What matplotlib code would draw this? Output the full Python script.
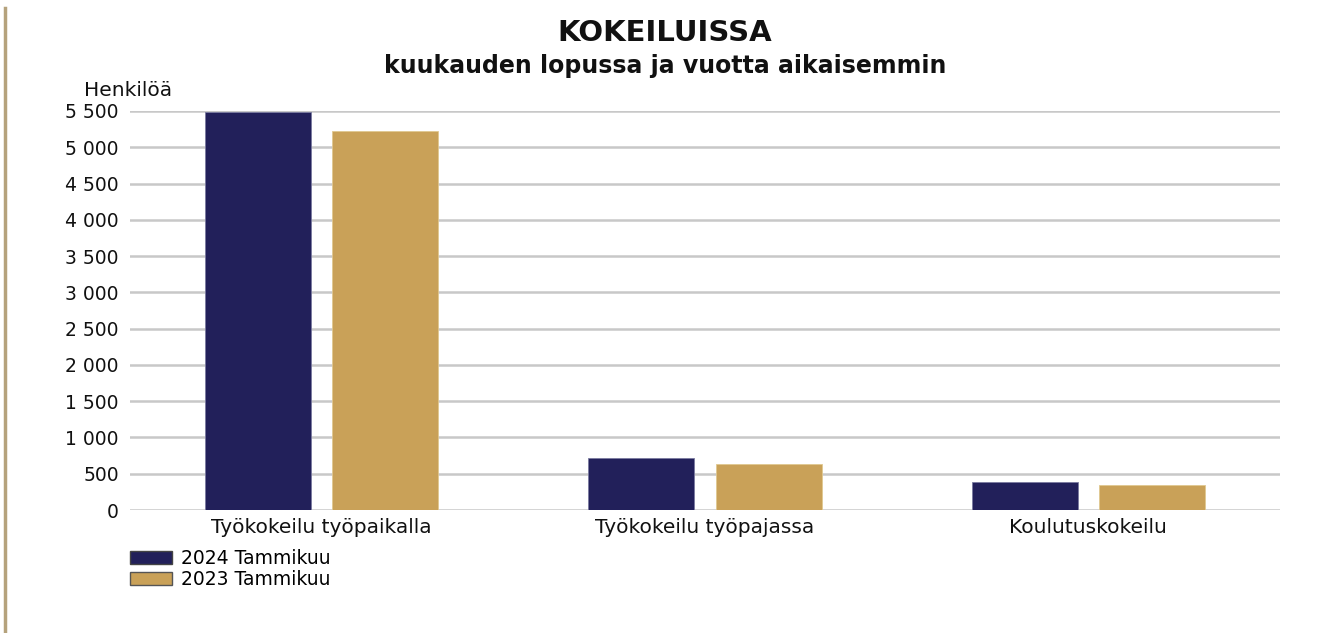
import matplotlib
matplotlib.use("Agg")
import matplotlib.pyplot as plt
import matplotlib.ticker as ticker
from matplotlib.lines import Line2D
from matplotlib.patches import Patch
import numpy as np

# the source chart uses a wide sans, DejaVu is the closest installed match
plt.rcParams["font.family"] = ["DejaVu Sans"]

categories = ["Työkokeilu työpaikalla", "Työkokeilu työpajassa", "Koulutuskokeilu"]
series_names = ["2024 Tammikuu", "2023 Tammikuu"]
values_2024 = [5490, 710, 390]
values_2023 = [5220, 635, 345]
yticks = list(range(0, 5501, 500))

NAVY = "#22205a"
GOLD = "#c9a158"
GRID = "#c8c8c8"
TXT = "#111111"

fig = plt.figure(figsize=(13.3, 6.33), dpi=100)
ax = fig.add_axes([130 / 1330, 1 - 510 / 633, 1150 / 1330, 399 / 633])

x = np.arange(len(categories))
w = 0.277
off = 0.166
ax.bar(x - off, values_2024, width=w, color=NAVY, edgecolor="#7a7aa0",
       linewidth=0.6, zorder=3)
ax.bar(x + off, values_2023, width=w, color=GOLD, edgecolor="#e0c890",
       linewidth=0.6, zorder=3)

ax.set_xlim(-0.5, 2.5)
ax.set_ylim(0, 5500)
ax.set_yticks(yticks)
ax.yaxis.set_major_formatter(ticker.FuncFormatter(
    lambda v, p: f"{int(v):,}".replace(",", " ")))
ax.set_xticks(x)
ax.set_xticklabels(categories)
ax.tick_params(axis="both", length=0, colors=TXT)
ax.tick_params(axis="y", pad=8, labelsize=13.5)
ax.tick_params(axis="x", pad=6, labelsize=14.5)
ax.grid(True, axis="y", color=GRID, linewidth=1.8, zorder=0)
for s in ax.spines.values():
    s.set_visible(False)

fig.text(0.5, 1 - 33 / 633, "KOKEILUISSA", ha="center", va="center",
         fontsize=21, fontweight="bold", color=TXT)
fig.text(0.5, 1 - 66 / 633, "kuukauden lopussa ja vuotta aikaisemmin",
         ha="center", va="center", fontsize=17, fontweight="bold",
         color=TXT)
fig.text(84 / 1330, 1 - 90 / 633, "Henkilöä", ha="left", va="center",
         fontsize=14.5, color=TXT)

# legend
handles = [Patch(facecolor=NAVY, edgecolor="#444444", linewidth=1),
           Patch(facecolor=GOLD, edgecolor="#555555", linewidth=1)]
leg = fig.legend(handles, series_names, loc="upper left",
                 bbox_to_anchor=(113 / 1330, 1 - 532 / 633), frameon=False,
                 fontsize=13.5, handlelength=2.25, handleheight=0.7,
                 labelspacing=0.1, handletextpad=0.5)

# left border line
fig.add_artist(Line2D([5 / 1330, 5 / 1330], [0, 1 - 8 / 633],
                      color="#b5a27c", linewidth=2.5))

fig.savefig("out.png", dpi=100)
